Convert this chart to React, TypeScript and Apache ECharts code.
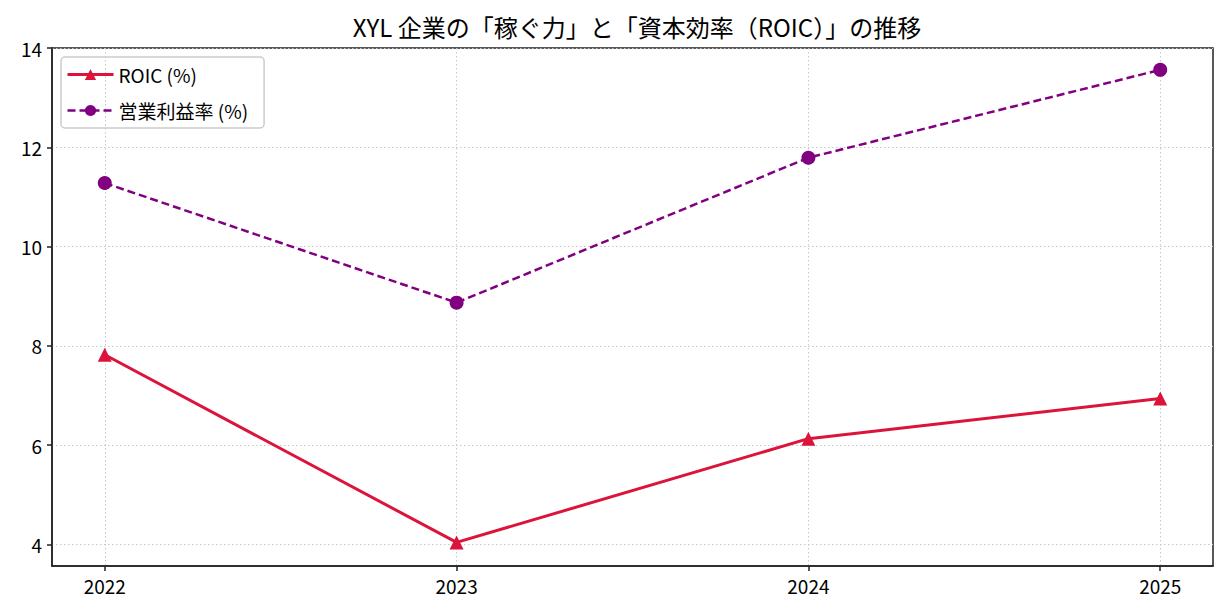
import React, { useEffect, useRef } from "react";
import * as echarts from "echarts";

const years = [2022, 2023, 2024, 2025];
const roic = [7.82, 4.04, 6.13, 6.94];
const opMargin = [11.28, 8.87, 11.79, 13.56];
const yTicks = [4, 6, 8, 10, 12, 14];
const titleText = "XYL 企業の「稼ぐ力」と「資本効率（ROIC）」の推移";
const seriesNames = ["ROIC (%)", "営業利益率 (%)"];

const FONT = "'Noto Sans CJK JP', sans-serif";

export default function App() {
  const ref = useRef<HTMLDivElement>(null);
  useEffect(() => {
    if (!ref.current) return;
    const chart = echarts.init(ref.current, null, { renderer: "svg" });
    const gridColor = "#c8c8c8";
    chart.setOption({
      animation: false,
      backgroundColor: "#ffffff",
      textStyle: { fontFamily: FONT },
      title: {
        text: titleText,
        left: 632,
        textAlign: "center",
        top: 9,
        textStyle: { fontFamily: FONT, fontSize: 24, fontWeight: "normal", color: "#000" },
      },
      legend: {
        orient: "vertical",
        left: 61,
        top: 57,
        padding: [8, 16, 8, 5],
        itemGap: 17,
        itemWidth: 46,
        itemHeight: 14,
        borderColor: "#cccccc",
        borderWidth: 1.5,
        borderRadius: 4,
        textStyle: { fontFamily: FONT, fontSize: 19, color: "#000" },
        data: [
          { name: seriesNames[0], lineStyle: { width: 3 } },
          { name: seriesNames[1], lineStyle: { width: 2.5 } },
        ],
      },
      grid: {
        left: 52,
        right: 15,
        top: 48,
        bottom: 50,
        show: true,
        borderColor: "#222",
        borderWidth: 1.5,
        containLabel: false,
      },
      xAxis: {
        type: "value",
        min: 2021.85,
        max: 2025.15,
        axisLine: { show: true, lineStyle: { color: "#222", width: 1.5 } },
        axisTick: { show: true, inside: false, length: 5, customValues: years, lineStyle: { color: "#222", width: 1.5 } },
        axisLabel: {
          customValues: years,
          formatter: (v: number) => String(v),
          fontFamily: FONT,
          fontSize: 19,
          color: "#000",
          margin: 10,
        },
        splitLine: { show: true, lineStyle: { color: gridColor, type: [1.5, 2.5], width: 1 } },
      },
      yAxis: {
        type: "value",
        min: 3.565,
        max: 14,
        axisLine: { show: true, lineStyle: { color: "#222", width: 1.5 } },
        axisTick: { show: true, inside: false, length: 5, customValues: yTicks, lineStyle: { color: "#222", width: 1.5 } },
        axisLabel: {
          customValues: yTicks,
          formatter: (v: number) => String(v),
          fontFamily: FONT,
          fontSize: 19,
          color: "#000",
          margin: 10,
        },
        splitLine: { show: true, lineStyle: { color: gridColor, type: [1.5, 2.5], width: 1 } },
      },
      series: [
        {
          name: seriesNames[0],
          type: "line",
          data: years.map((y, i) => [y, roic[i]]),
          symbol: "triangle",
          symbolSize: 14,
          color: "#DC143C",
          lineStyle: { color: "#DC143C", width: 3 },
          itemStyle: { color: "#DC143C" },
          z: 3,
        },
        {
          name: seriesNames[1],
          type: "line",
          data: years.map((y, i) => [y, opMargin[i]]),
          symbol: "circle",
          symbolSize: 14,
          color: "#800080",
          lineStyle: { color: "#800080", width: 2.5, type: [8, 4] },
          itemStyle: { color: "#800080" },
          z: 3,
        },
      ],
    });
    return () => chart.dispose();
  }, []);
  return (
    <div
      ref={ref}
      style={{ position: "fixed", left: 0, top: 0, width: 1228, height: 616 }}
    />
  );
}
